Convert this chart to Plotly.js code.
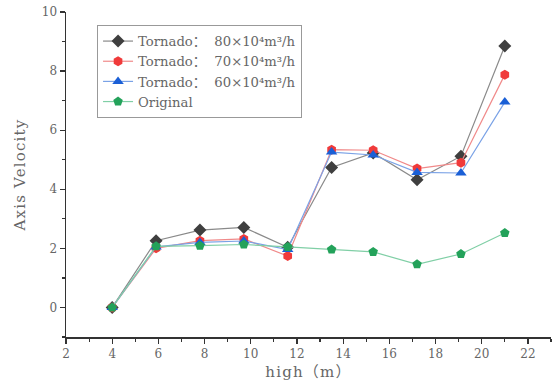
<!DOCTYPE html>
<html>
<head>
<meta charset="utf-8">
<script src="https://cdn.plot.ly/plotly-3.0.1.min.js"></script>
<style>
body{margin:0;background:#fff}#chart{width:552px;height:385px}
#chart .xtitle, #chart .ytitle{letter-spacing:1.2px}
</style>
</head>
<body>
<div id="chart"></div>
<script>
var heights = [4, 5.9, 7.8, 9.7, 11.6, 13.5, 15.3, 17.2, 19.1, 21.0];
var tornado80 = [0, 2.26, 2.62, 2.71, 2.04, 4.74, 5.23, 4.32, 5.12, 8.85];
var tornado70 = [0, 2.0, 2.26, 2.32, 1.74, 5.34, 5.32, 4.7, 4.9, 7.88];
var tornado60 = [0, 2.05, 2.2, 2.25, 1.96, 5.26, 5.16, 4.57, 4.55, 6.95];
var original  = [0, 2.07, 2.09, 2.13, 2.05, 1.96, 1.88, 1.46, 1.81, 2.52];
var seriesNames = [
  'Tornado：  80×10⁴m³/h',
  'Tornado：  70×10⁴m³/h',
  'Tornado：  60×10⁴m³/h',
  'Original'
];
var xTitle = 'high（m）';
var yTitle = 'Axis Velocity';

var fontFam = '"DejaVu Serif", "Noto Sans CJK SC", serif';
function tr(y, name, sym, mcol, lcol, size) {
  return {x: heights, y: y, name: name, type: 'scatter', mode: 'lines+markers',
    line: {color: lcol, width: 1.2},
    marker: {symbol: sym, color: mcol, size: size, line: {width: 0}}};
}
var data = [
  tr(tornado80, seriesNames[0], 'diamond', '#3f3f3f', '#8a8a8a', 10),
  tr(tornado70, seriesNames[1], 'hexagon', '#f03a3a', '#f08a8a', 10),
  tr(tornado60, seriesNames[2], 'triangle-up', '#1a5fd6', '#7aa2e6', 10),
  tr(original, seriesNames[3], 'pentagon', '#23a25a', '#80cfa6', 10)
];
var axisCommon = {
  showline: true, linecolor: '#333', linewidth: 1.5, mirror: false,
  ticks: 'outside', ticklen: 5, tickwidth: 1.2, tickcolor: '#333',
  showgrid: false, zeroline: false,
  tickfont: {family: fontFam, size: 12, color: '#666'}
};
var layout = {
  width: 552, height: 385,
  margin: {l: 66, r: 1, t: 12, b: 48},
  paper_bgcolor: '#fff', plot_bgcolor: '#fff',
  font: {family: fontFam, color: '#666'},
  xaxis: Object.assign({}, axisCommon, {
    range: [2, 23], tick0: 2, dtick: 2,
    minor: {dtick: 1, ticklen: 3, tickcolor: '#333', ticks: 'outside'},
    title: {text: xTitle, font: {family: fontFam, size: 15, color: '#666'}, standoff: 6}
  }),
  yaxis: Object.assign({}, axisCommon, {
    range: [-1, 10], tick0: 0, dtick: 2,
    minor: {dtick: 1, tick0: 0, ticklen: 3, tickcolor: '#333', ticks: 'outside'},
    title: {text: yTitle, font: {family: fontFam, size: 15, color: '#666'}, standoff: 12}
  }),
  legend: {
    x: 0.064, y: 0.96, xanchor: 'left', yanchor: 'top',
    bgcolor: '#fff', bordercolor: '#999', borderwidth: 1,
    font: {family: fontFam, size: 13.2, color: '#666'},
    tracegroupgap: 0, itemwidth: 30
  },
  showlegend: true
};
Plotly.newPlot('chart', data, layout, {displayModeBar: false, staticPlot: true});
</script>
</body>
</html>
